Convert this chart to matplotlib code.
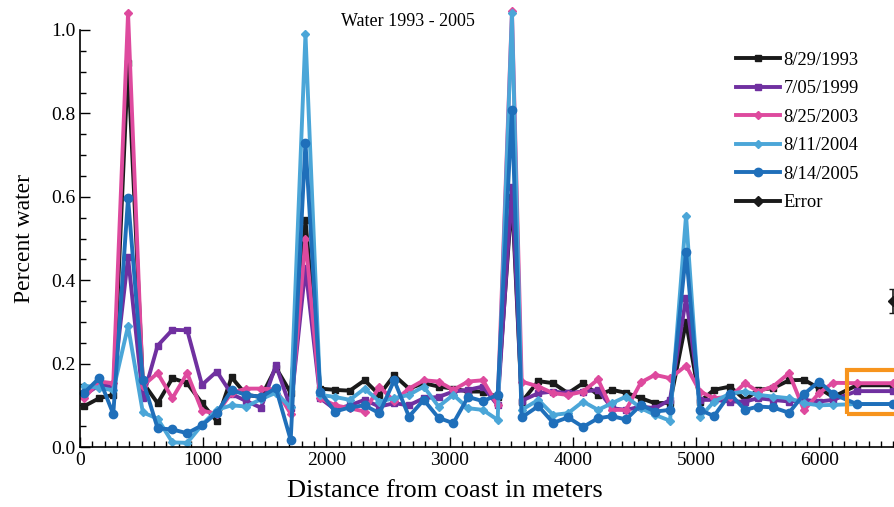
import matplotlib
matplotlib.use('Agg')
import matplotlib.pyplot as plt
from matplotlib.patches import Rectangle
from matplotlib.ticker import MultipleLocator, FormatStrFormatter

plt.rcParams['font.family'] = ['Liberation Serif', 'DejaVu Serif']

# distance from coast (m); last two points are the boxed values
distance = [35, 155, 270, 390, 510, 630, 750, 870, 990, 1110, 1230, 1350, 1470,
            1590, 1710, 1830, 1950, 2070, 2190, 2310, 2430, 2550, 2670, 2790,
            2910, 3030, 3150, 3270, 3390, 3506, 3585, 3720, 3841, 3961, 4083,
            4205, 4318, 4432, 4553, 4667, 4789, 4919, 5032, 5146, 5276, 5398,
            5503, 5625, 5755, 5877, 5998, 6112, 6305, 6595]

w1993 = [0.098, 0.117, 0.125, 0.92, 0.155, 0.105, 0.165, 0.153, 0.105, 0.062,
         0.167, 0.125, 0.12, 0.19, 0.13, 0.545, 0.14, 0.137, 0.135, 0.16,
         0.125, 0.172, 0.14, 0.153, 0.145, 0.14, 0.133, 0.133, 0.12, 0.6,
         0.108, 0.158, 0.153, 0.129, 0.153, 0.125, 0.137, 0.13, 0.117, 0.105,
         0.106, 0.3, 0.109, 0.137, 0.145, 0.113, 0.137, 0.141, 0.16, 0.161,
         0.141, 0.12, 0.148, 0.148]

w1999 = [0.125, 0.148, 0.145, 0.455, 0.118, 0.243, 0.281, 0.28, 0.149, 0.181,
         0.127, 0.11, 0.094, 0.196, 0.093, 0.43, 0.117, 0.09, 0.1, 0.113,
         0.097, 0.105, 0.1, 0.117, 0.12, 0.133, 0.137, 0.145, 0.1, 0.623,
         0.111, 0.129, 0.133, 0.129, 0.133, 0.137, 0.093, 0.089, 0.097, 0.093,
         0.113, 0.358, 0.113, 0.113, 0.109, 0.109, 0.117, 0.113, 0.109, 0.113,
         0.109, 0.113, 0.134, 0.134]

w2003 = [0.118, 0.157, 0.153, 1.04, 0.147, 0.177, 0.117, 0.177, 0.087, 0.08,
         0.13, 0.14, 0.14, 0.138, 0.08, 0.5, 0.117, 0.1, 0.093, 0.085,
         0.145, 0.11, 0.14, 0.16, 0.157, 0.137, 0.157, 0.16, 0.1, 1.045,
         0.157, 0.145, 0.129, 0.125, 0.133, 0.162, 0.089, 0.089, 0.155, 0.173,
         0.165, 0.195, 0.133, 0.117, 0.12, 0.153, 0.133, 0.145, 0.177, 0.088,
         0.129, 0.154, 0.153, 0.153]

w2004 = [0.147, 0.142, 0.136, 0.29, 0.083, 0.068, 0.011, 0.01, 0.053, 0.089,
         0.1, 0.097, 0.115, 0.13, 0.095, 0.99, 0.125, 0.12, 0.113, 0.14,
         0.109, 0.117, 0.125, 0.145, 0.097, 0.125, 0.093, 0.089, 0.065, 1.04,
         0.089, 0.113, 0.077, 0.081, 0.109, 0.089, 0.105, 0.121, 0.093, 0.077,
         0.063, 0.555, 0.071, 0.109, 0.128, 0.133, 0.125, 0.121, 0.117, 0.105,
         0.1, 0.101, 0.103, 0.103]

w2005 = [0.13, 0.165, 0.079, 0.597, 0.16, 0.045, 0.042, 0.033, 0.052, 0.082,
         0.136, 0.125, 0.12, 0.141, 0.017, 0.73, 0.132, 0.085, 0.095, 0.1,
         0.081, 0.16, 0.073, 0.113, 0.07, 0.057, 0.12, 0.11, 0.125, 0.808,
         0.071, 0.098, 0.058, 0.071, 0.048, 0.069, 0.074, 0.066, 0.101, 0.085,
         0.089, 0.467, 0.089, 0.074, 0.128, 0.089, 0.097, 0.095, 0.082, 0.127,
         0.157, 0.127, 0.103, 0.103]

labels = ['8/29/1993', '7/05/1999', '8/25/2003', '8/11/2004', '8/14/2005']
colors = ['#1a1a1a', '#7030a0', '#de4a9e', '#4ba6d8', '#1f6fba']
markers = ['s', 's', 'D', 'D', 'o']
msizes = [5, 5, 4, 4, 6]

err_x, err_y, err_size = 6600, 0.35, 0.028

fig = plt.figure(figsize=(8.95, 5.07), dpi=100)
ax = fig.add_axes([80 / 895, 1 - 447 / 507, 1 - 80 / 895, 417 / 507])

for vals, lab, c, m, ms in zip([w1993, w1999, w2003, w2004, w2005],
                               labels, colors, markers, msizes):
    ax.plot(distance, vals, color=c, marker=m, markersize=ms, lw=2.8,
            label=lab, clip_on=False)

ax.errorbar([err_x], [err_y], yerr=[err_size], fmt='D', color='#1a1a1a',
            markersize=5, capsize=3, elinewidth=1.2, clip_on=False)
ax.plot([], [], color='#1a1a1a', marker='D', markersize=5, lw=2.8, label='Error')

ax.add_patch(Rectangle((6223, 0.08), 700, 0.104, fill=False,
                       edgecolor='#f7941d', lw=3, clip_on=False, zorder=5))

ax.set_xlim(0, 6615)
ax.set_ylim(0, 1.0)
ax.xaxis.set_major_locator(MultipleLocator(1000))
ax.xaxis.set_minor_locator(MultipleLocator(100))
ax.yaxis.set_major_locator(MultipleLocator(0.2))
ax.yaxis.set_minor_locator(MultipleLocator(0.05))
ax.yaxis.set_major_formatter(FormatStrFormatter('%.1f'))
ax.tick_params(which='both', direction='in', labelsize=14, width=1)
ax.tick_params(which='major', length=7)
ax.tick_params(which='minor', length=4)
ax.spines['top'].set_visible(False)
ax.spines['right'].set_visible(False)
ax.spines['left'].set_linewidth(1.2)
ax.spines['bottom'].set_linewidth(1.2)

ax.set_xlabel('Distance from coast in meters', fontsize=19)
ax.xaxis.set_label_coords(0.448, -0.08)
ax.set_ylabel('Percent water', fontsize=17, labelpad=11)
ax.text(0.402, 1.02, 'Water 1993 - 2005', transform=ax.transAxes,
        ha='center', va='center', fontsize=13)

fig.legend(loc='upper left', bbox_to_anchor=(0.822, 0.898), frameon=False,
           fontsize=13.3, handlelength=2.4, handletextpad=0.2,
           labelspacing=0.62, borderpad=0, borderaxespad=0)

fig.savefig('out.png', dpi=100)
